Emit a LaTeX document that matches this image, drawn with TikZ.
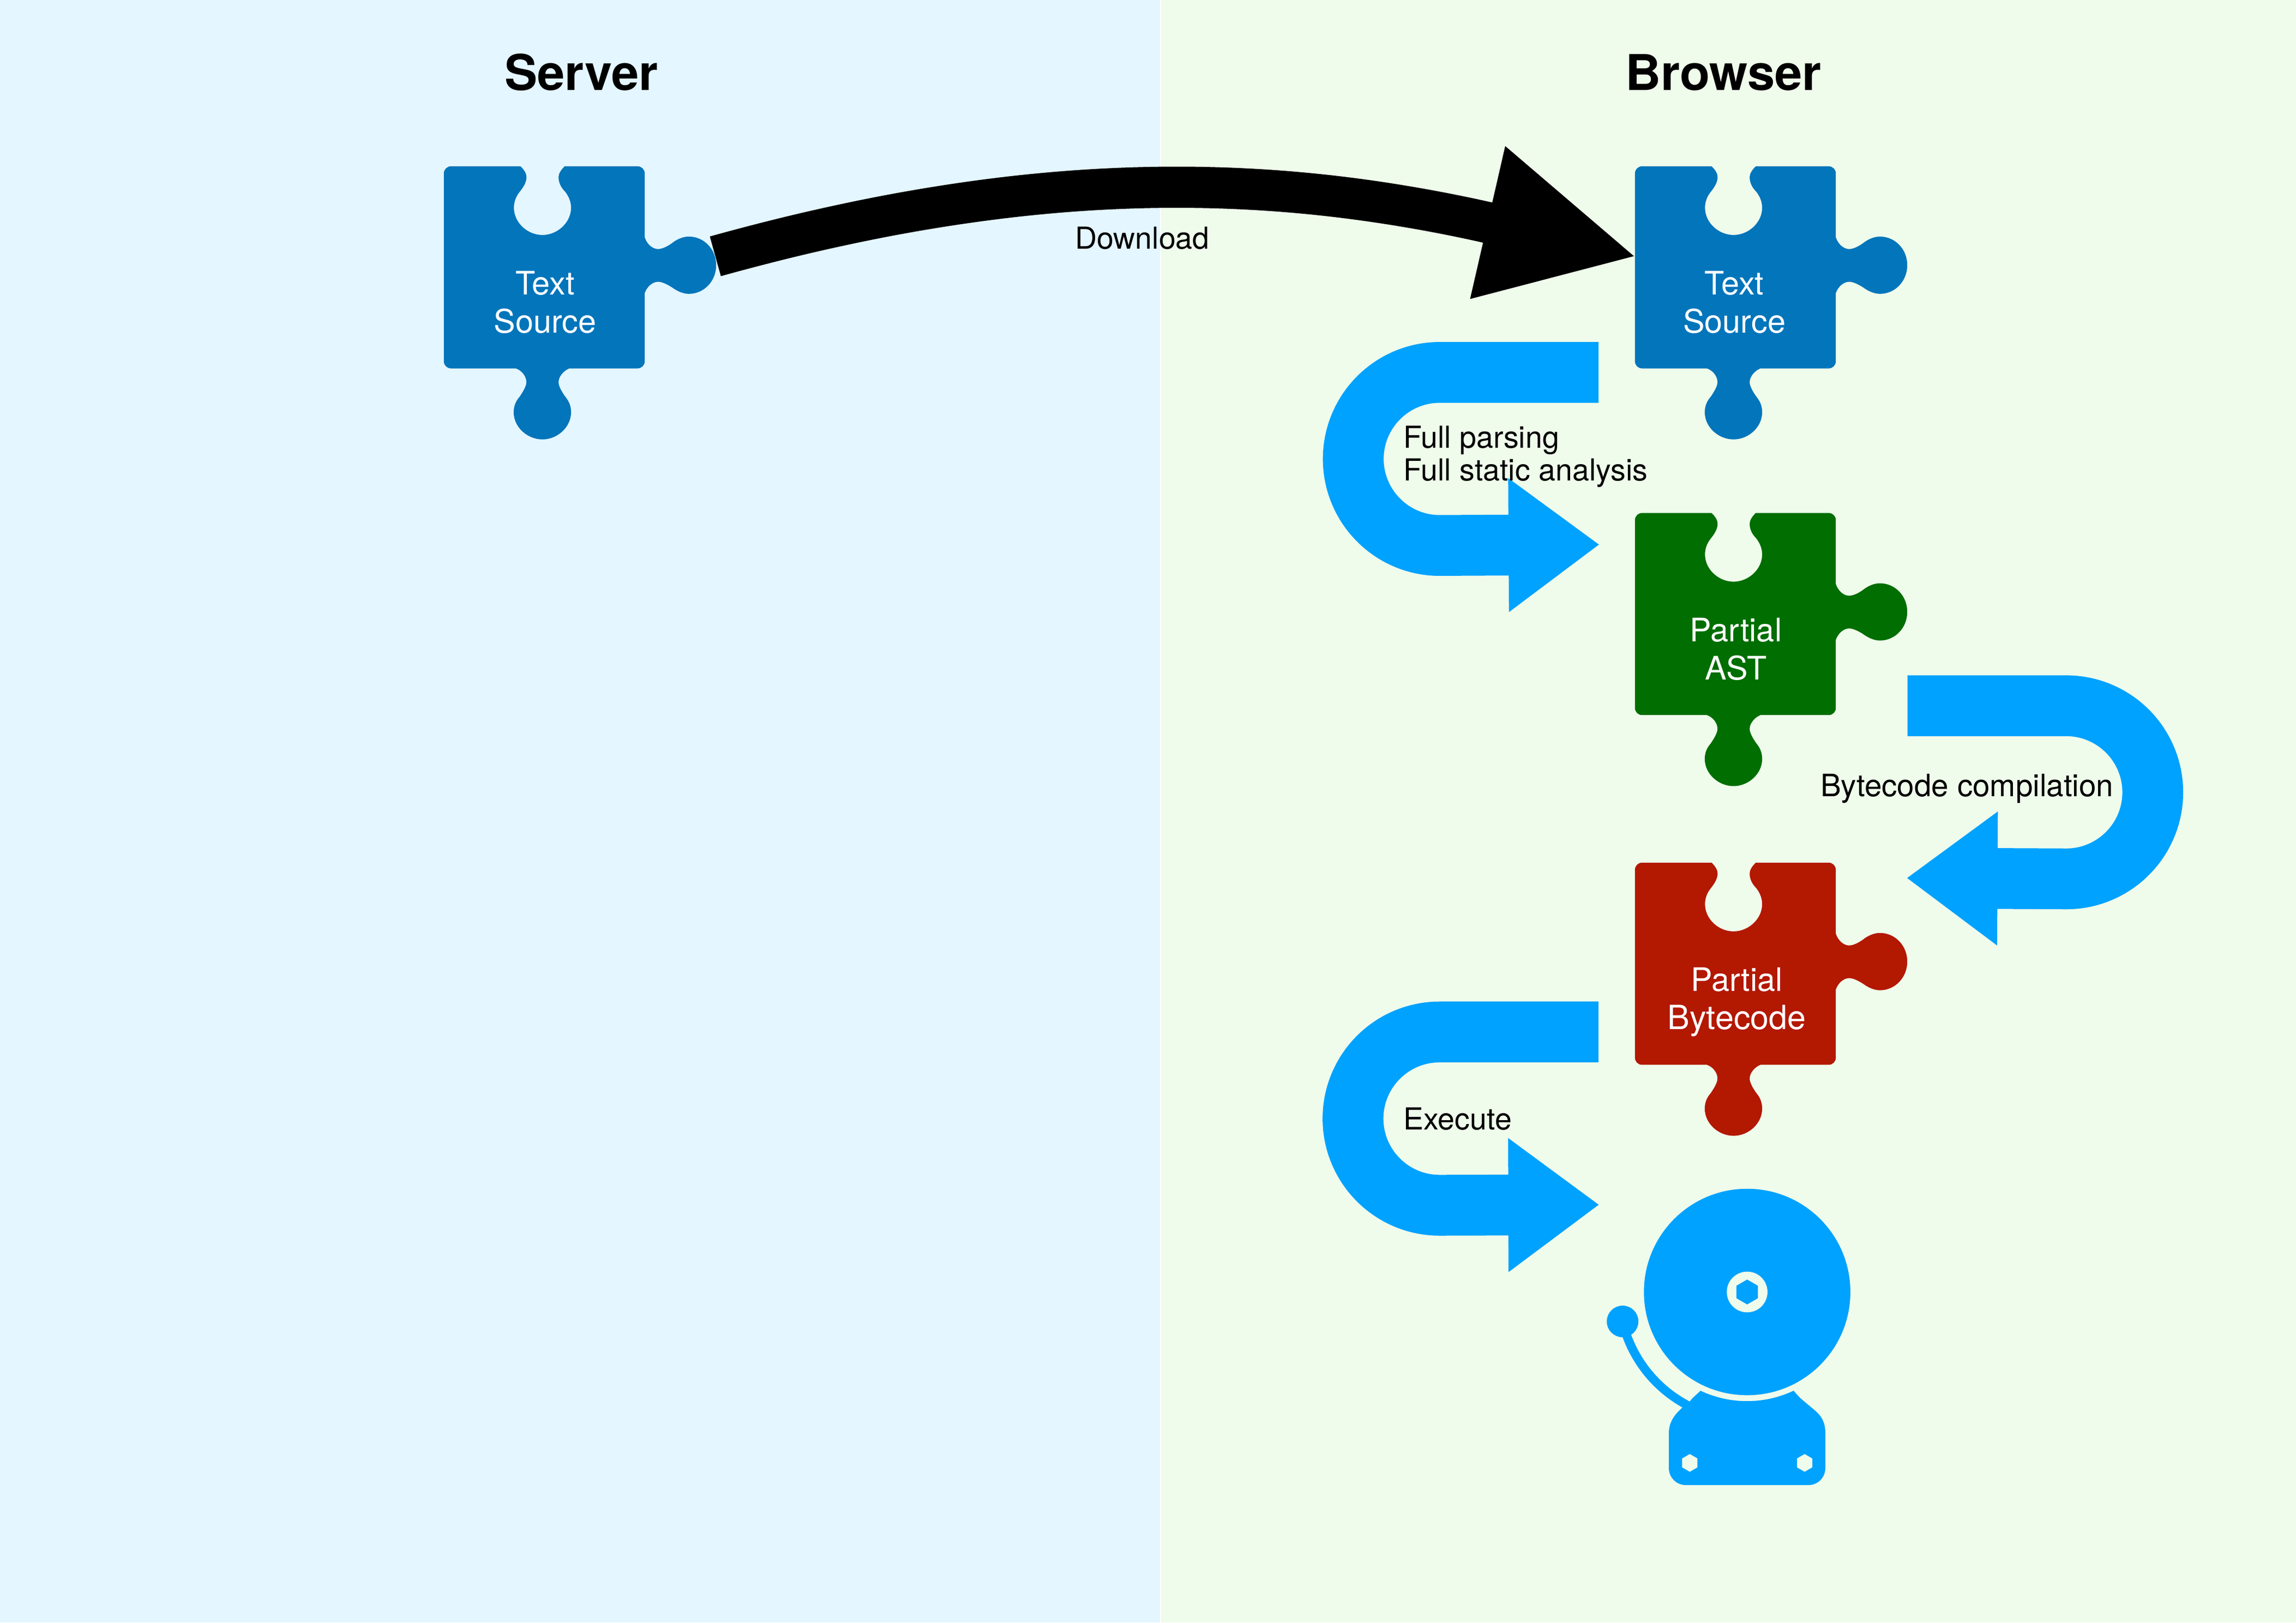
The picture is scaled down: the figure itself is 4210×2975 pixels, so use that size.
\documentclass[tikz,border=0pt]{standalone}
\usepackage{fontspec}
\setmainfont{TeX Gyre Heros}
\usepackage{tikz}
\usetikzlibrary{arrows.meta,calc,shapes.geometric}
\definecolor{serverbg}{RGB}{228,246,255}
\definecolor{browserbg}{RGB}{239,251,235}
\definecolor{piecenavy}{RGB}{2,117,187}
\definecolor{piecegreen}{RGB}{0,110,0}
\definecolor{piecered}{RGB}{179,24,0}
\definecolor{flowblue}{RGB}{0,162,255}
\tikzstyle{title} = [anchor=base, inner sep=0pt, font=\fontsize{25.7}{30}\selectfont\bfseries]
\tikzstyle{piecebody} = [rectangle, minimum width=36.84mm, minimum height=37.06mm, inner sep=0pt]
\tikzstyle{piecelabel} = [inner sep=0pt, align=center, text=white, font=\fontsize{16.9}{19.9}\selectfont]
\tikzstyle{steplabel} = [inner sep=0pt, align=left, font=\fontsize{15.8}{17.2}\selectfont]
\tikzstyle{flowarrow} = [line width=11.15mm, flowblue, -{Triangle[length=16.7mm,width=23.4mm]}]
\tikzstyle{downloadarrow} = [line width=7.55mm, black, -{Triangle[length=28.2mm,width=26.5mm]}]
\tikzstyle{bellhex} = [regular polygon, regular polygon sides=6, shape border rotate=30, inner sep=0pt]
\tikzstyle{bellround} = [circle, inner sep=0pt]
\def\piecepath{(-171,-185.3) -- (-43.7,-185.3)
  .. controls (-37,-179) and (-32.6,-172) .. (-32.6,-165.4)
  .. controls (-32.6,-155) and (-40,-145) .. (-45,-138.6)
  .. controls (-52,-130) and (-55.7,-120) .. (-55.7,-109.3)
  .. controls (-55.7,-82) and (-31,-59.3) .. (-3.3,-59.3)
  .. controls (24,-59.3) and (49.1,-82) .. (49.1,-109.3)
  .. controls (49.1,-120) and (45,-130) .. (38.4,-138.6)
  .. controls (31,-146) and (26.2,-155) .. (26.2,-165.4)
  .. controls (26.2,-172) and (31,-179) .. (37.3,-185.3)
  -- (171,-185.3) .. controls (178.5,-185.3) and (184.2,-179.5) .. (184.2,-172)
  -- (184.2,-55)
  .. controls (188,-43) and (198,-33.5) .. (208.7,-33.5)
  .. controls (217,-33.5) and (229,-40) .. (237.4,-46.8)
  .. controls (245,-52) and (255,-56.4) .. (265,-56.4)
  .. controls (293,-56.4) and (315.2,-33) .. (315.2,-4)
  .. controls (315.2,25) and (293,48.6) .. (265,48.6)
  .. controls (255,48.6) and (245,44) .. (237.4,38.9)
  .. controls (229,33) and (217,26.4) .. (208.7,26.4)
  .. controls (198,26.4) and (188,36) .. (184.2,47.1)
  -- (184.2,172) .. controls (184.2,179.5) and (178.5,185.3) .. (171,185.3)
  -- (46,185.3)
  .. controls (36,189) and (26.2,200) .. (26.2,210.4)
  .. controls (26.2,218) and (32,228) .. (38.4,237.1)
  .. controls (45,245) and (49.1,254) .. (49.1,265.7)
  .. controls (49.1,293) and (24,315.5) .. (-3.3,315.5)
  .. controls (-31,315.5) and (-56.1,293) .. (-56.1,265.7)
  .. controls (-56.1,254) and (-52,245) .. (-45,237.1)
  .. controls (-39,228) and (-32.8,218) .. (-32.8,210.4)
  .. controls (-32.8,200) and (-41,189) .. (-52.3,185.3)
  -- (-171,185.3) .. controls (-178.5,185.3) and (-184.2,179.5) .. (-184.2,172)
  -- (-184.2,-172) .. controls (-184.2,-179.5) and (-178.5,-185.3) .. (-171,-185.3) -- cycle}
\newcommand{\puzzlepiece}[5]{%
  \fill[#3, shift={(#2)}] \piecepath;
  \node[piecebody] (#1) at (#2) {};
  \node[piecelabel] (#1text) at ($(#1)+(#4,71.5)$) {#5};
}
\begin{document}
\begin{tikzpicture}[x=0.1mm, y=-0.1mm]
\useasboundingbox (0,0) rectangle (4210,2975);
% Backgrounds
\fill[white] (0,0) rectangle (4210,2975);
\fill[serverbg] (0,0) rectangle (2127,2975);
\fill[browserbg] (2129,0) rectangle (4210,2975);

\node (servertitle) [title] at (1066,165) {Server};
\node (browsertitle) [title] at (3160,165) {Browser};

% Puzzle pieces
\puzzlepiece{srcserver}{998,490.2}{piecenavy}{1.5}{Text\strut\\Source\strut}
\puzzlepiece{srcbrowser}{3182,490.2}{piecenavy}{-2}{Text\strut\\Source\strut}
\puzzlepiece{partialast}{3182,1125.9}{piecegreen}{1}{Partial\strut\\AST\strut}
\puzzlepiece{partialbytecode}{3182,1767.1}{piecered}{2.5}{Partial\strut\\{\fontsize{17.4}{19.9}\selectfont Bytecode\strut}}

% Alarm bell
\node (bell) [bellround, fill=flowblue, minimum size=37.86mm] at (3203.6,2369) {};
\node (bellring) [bellround, fill=browserbg, minimum size=7.46mm] at (bell.center) {};
\node (bellhub) [bellhex, fill=flowblue, minimum size=4.56mm] at (bell.center) {};
\node (bellball) [bellround, fill=flowblue, minimum size=5.8mm] at ($(bell)+(-228.4,54)$) {};
\fill[flowblue, shift={(bell.center)}] (-85.7,181) arc[start angle=115.3, end angle=64.7, radius=200]
  .. controls (98,197) and (108,203) .. (117.8,211.8)
  .. controls (130,222) and (143.4,232) .. (143.4,259) -- (143.4,322.5)
  .. controls (143.4,340) and (130,354) .. (112.4,354) -- (-112.6,354)
  .. controls (-130,354) and (-143.6,340) .. (-143.6,322.5) -- (-143.6,259)
  .. controls (-143.6,236) and (-130,222) .. (-118.6,211.8)
  arc[start angle=119.2, end angle=160, radius=243] -- (-212.6,78.7)
  arc[start angle=159.7, end angle=117.7, radius=227]
  .. controls (-100,193) and (-92,188) .. (-85.7,181) -- cycle;
\node (boltleft) [bellhex, fill=browserbg, minimum size=3.24mm] at ($(bell)+(-105.2,313.4)$) {};
\node (boltright) [bellhex, fill=browserbg, minimum size=3.24mm] at ($(bell)+(105.4,313.4)$) {};

% Connectors
\draw[downloadarrow] ($(srcserver.east)+(128.8,-20.2)$) .. controls +(574,-160) and +(-683,-157) .. ($(srcbrowser.west)+(5.5,-19)$);
\draw[flowarrow] ($(srcbrowser.south west)+(-66,6.6)$) -- ++(-291,0)
  arc[start angle=-90, end angle=-270, radius=158.7] -- ($(partialast.north west)+(-64,58.6)$);
\draw[flowarrow] ($(partialast.south east)+(130.7,-17.8)$) -- ++(291,0)
  arc[start angle=-90, end angle=90, radius=158.7] -- ($(partialbytecode.north east)+(128.7,28.8)$);
\draw[flowarrow] ($(partialbytecode.south west)+(-66.3,-60.9)$) -- ++(-291,0)
  arc[start angle=-90, end angle=-270, radius=158.9] -- ($(bell.west)+(-80.9,-160)$);

% Labels
\node (downloadlabel) [steplabel, anchor=base] at (2094.5,456) {Download};
\node (parselabel) [steplabel, anchor=west] at (2573,839.5) {Full parsing\strut\\Full static analysis\strut};
\node (compilelabel) [steplabel, anchor=base, font=\fontsize{16.1}{17.2}\selectfont] at (3606.8,1460.5) {Bytecode compilation};
\node (executelabel) [steplabel, anchor=base west] at (2573,2071) {Execute};
\end{tikzpicture}
\end{document}
